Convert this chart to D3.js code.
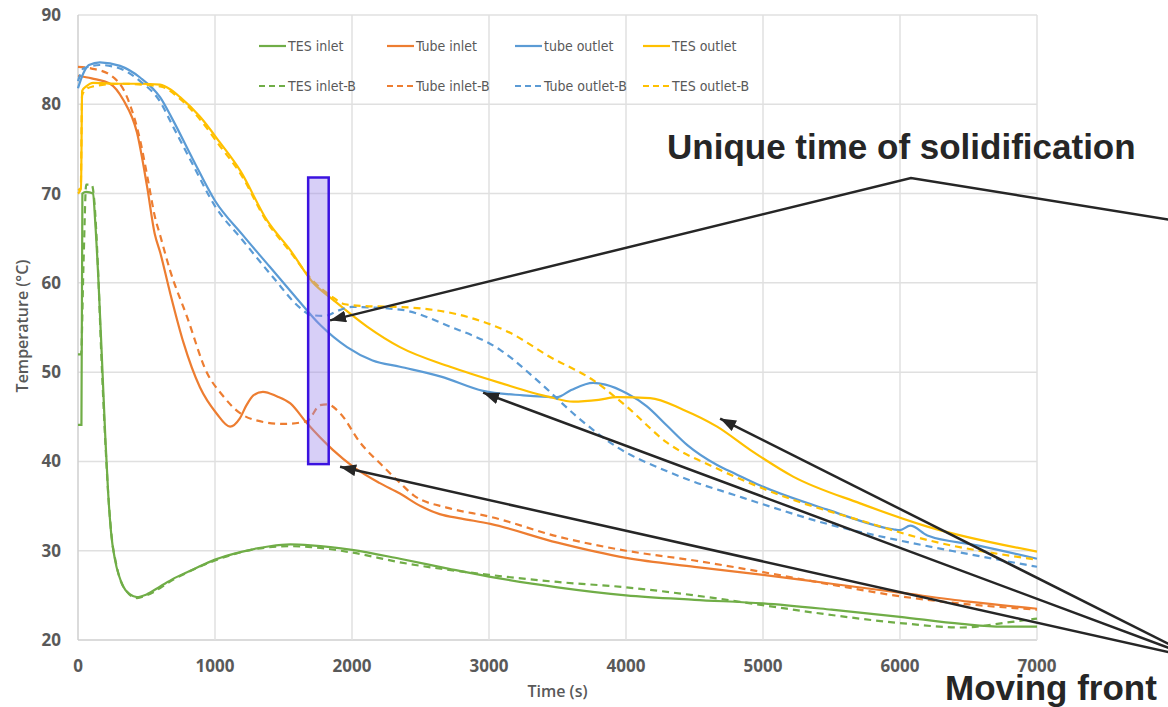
<!DOCTYPE html>
<html>
<head>
<meta charset="utf-8">
<script src="https://cdn.jsdelivr.net/npm/d3@7"></script>
<style>
body { margin: 0; background: #fff; }
</style>
</head>
<body>
<div id="chart"></div>
<script>
var width = 1168;
var height = 707;

var xTicks = [0, 1000, 2000, 3000, 4000, 5000, 6000, 7000];
var yTicks = [20, 30, 40, 50, 60, 70, 80, 90];

// [time (s), temperature (°C)]
var tesInlet = [[0,44.1],[25,44.1],[32,70],[60,70.2],[110,70],[125,67],[150,60],[175,51.4],[200,42.5],[220,36.5],[245,31.5],[270,29],[330,26],[380,25.1],[430,24.8],[500,25.1],[600,26],[700,26.9],[840,27.9],[1000,29],[1200,29.9],[1400,30.5],[1550,30.7],[1700,30.6],[2000,30.1],[2350,29.1],[2700,28],[3000,27.1],[3500,25.9],[4000,25.0],[4500,24.5],[5000,24.1],[5500,23.4],[6000,22.6],[6450,21.8],[6750,21.5],[7000,21.5]];
var tubeInlet = [[0,83.2],[100,82.9],[234,82.3],[330,80.5],[431,76.8],[504,70.8],[560,65.5],[600,63.4],[672,58.9],[770,53.3],[890,48.3],[1010,45.4],[1110,43.9],[1180,44.8],[1230,46.3],[1280,47.4],[1350,47.8],[1450,47.3],[1550,46.5],[1670,44.3],[1860,41.3],[2010,39.4],[2200,37.6],[2350,36.4],[2500,35],[2640,34.1],[2800,33.6],[3010,33.0],[3500,30.9],[4000,29.2],[4500,28.2],[5000,27.3],[5500,26.3],[6000,25.3],[6500,24.3],[7000,23.5]];
var tubeOutlet = [[0,81.8],[40,83.5],[80,84.4],[160,84.7],[307,84.3],[453,83],[599,80.8],[694,78.2],[840,73.8],[1000,69.2],[1200,65.4],[1400,61.8],[1600,58.2],[1767,55.3],[1964,52.8],[2150,51.3],[2350,50.6],[2650,49.5],[2957,47.9],[3250,47.4],[3497,47.2],[3600,48.0],[3760,48.8],[3850,48.6],[4008,47.6],[4150,46.2],[4300,44.0],[4450,41.8],[4665,39.6],[4800,38.6],[4980,37.3],[5470,34.6],[5950,32.4],[6000,32.3],[6075,32.8],[6200,31.7],[6565,30.6],[7000,29.1]];
var tesOutlet = [[0,70.4],[22,70.6],[30,81.5],[60,82],[110,82.4],[300,82.3],[450,82.3],[599,82.2],[680,81.6],[745,80.8],[891,78.6],[1037,75.7],[1183,72.6],[1380,67],[1548,63.7],[1716,60],[1862,58.1],[2110,55.1],[2350,52.8],[2716,50.6],[3081,48.8],[3446,47.2],[3614,46.7],[3800,46.9],[3935,47.2],[4176,47.1],[4417,45.8],[4665,43.9],[4906,41.3],[5220,38.3],[5709,35.3],[6200,32.7],[7000,29.9]];
var tesInletB = [[0,52],[22,52],[40,62],[60,71],[100,71],[120,69],[145,62],[170,52],[200,42],[220,36.5],[250,31],[275,28.8],[330,26],[430,24.7],[500,25],[700,26.8],[1000,28.9],[1300,30.2],[1550,30.5],[1700,30.4],[2000,29.8],[2350,28.7],[3000,27.3],[3500,26.5],[4000,25.9],[4500,25.0],[5000,23.9],[5500,22.8],[6000,21.9],[6450,21.4],[6800,22.0],[7000,22.4]];
var tubeInletB = [[0,84.2],[100,84],[234,83.3],[358,80.8],[453,76],[511,71.5],[560,67.5],[600,65.3],[672,61.4],[796,56.2],[942,49.9],[1050,47.5],[1183,45.4],[1300,44.6],[1500,44.2],[1670,44.5],[1767,46.3],[1820,46.4],[1913,45.4],[2060,42.1],[2230,39.4],[2350,37.6],[2450,36.2],[2700,34.8],[3010,33.8],[3500,31.6],[4000,30.0],[4500,28.9],[5000,27.6],[5500,26.2],[6000,24.9],[6500,24.0],[7000,23.4]];
var tubeOutletB = [[0,82.6],[40,84],[160,84.4],[307,84],[453,82.6],[599,80.3],[694,77.5],[840,73.2],[1000,68.6],[1200,64.8],[1425,60.6],[1621,57.2],[1700,56.4],[1800,56.3],[1900,56.9],[2000,57.3],[2350,57],[2716,55.1],[3081,52.5],[3373,48.8],[3643,45],[3935,41.6],[4300,38.9],[4500,37.7],[4780,36.3],[5000,35.2],[5470,33.0],[5950,31.3],[6440,29.8],[7000,28.2]];
var tesOutletB = [[0,70],[20,70.5],[30,81],[60,81.7],[110,82],[300,82.3],[599,82],[745,80.6],[891,78.3],[1037,75.3],[1183,72.3],[1380,66.8],[1548,63.5],[1716,60.2],[1850,58.5],[1950,57.6],[2100,57.4],[2350,57.3],[2840,56.2],[3154,54.4],[3446,51.7],[3760,49.1],[4008,46.1],[4300,42.1],[4665,39.2],[5220,35.7],[5709,33.4],[6200,31.2],[7000,29.0]];

var seriesNames = ["TES inlet", "Tube inlet", "tube outlet", "TES outlet", "TES inlet-B", "Tube inlet-B", "Tube outlet-B", "TES outlet-B"];
var seriesColors = ["#70ad47", "#ed7d31", "#5b9bd5", "#ffc000", "#70ad47", "#ed7d31", "#5b9bd5", "#ffc000"];
var seriesDashed = [false, false, false, false, true, true, true, true];
var seriesData = [tesInlet, tubeInlet, tubeOutlet, tesOutlet, tesInletB, tubeInletB, tubeOutletB, tesOutletB];

// annotations, in data units
var solidBand = {t0: 1680, t1: 1830, T0: 39.7, T1: 71.8};
var uniquePath = [[8200, 66.5], [6080, 71.75], [1840, 55.8]];
var frontOrigin = [8176, 17.9];
var frontTips = [[4687, 44.8], [2957, 47.7], [1913, 39.4]];

var svg = d3.select("#chart").append("svg")
	.attr("width", width)
	.attr("height", height)
	.style("font-family", "'Open Sans', 'Liberation Sans', sans-serif");

svg.append("rect").attr("width", width).attr("height", height).attr("fill", "#fff");

var x = d3.scaleLinear().domain([0, 7000]).range([78, 1037]);
var y = d3.scaleLinear().domain([20, 90]).range([640, 15]);

// grid
svg.append("g").selectAll("line").data(yTicks).enter().append("line")
	.attr("x1", x(0)).attr("x2", x(7000))
	.attr("y1", function(d) { return y(d); }).attr("y2", function(d) { return y(d); })
	.attr("stroke", function(d) { return d == 20 ? "#cfcfcf" : "#e0e0e0"; })
	.attr("stroke-width", 1.5);

svg.append("g").selectAll("line").data(xTicks).enter().append("line")
	.attr("y1", y(20)).attr("y2", y(90))
	.attr("x1", function(d) { return x(d); }).attr("x2", function(d) { return x(d); })
	.attr("stroke", function(d) { return d == 0 ? "#cfcfcf" : "#e0e0e0"; })
	.attr("stroke-width", 1.5);

// tick labels
svg.append("g").selectAll("text").data(yTicks).enter().append("text")
	.attr("x", 61).attr("y", function(d) { return y(d) + 6; })
	.attr("text-anchor", "end")
	.attr("font-size", 17).attr("font-weight", 700).attr("fill", "#595959")
	.text(function(d) { return d; });

svg.append("g").selectAll("text").data(xTicks).enter().append("text")
	.attr("x", function(d) { return x(d); }).attr("y", 672)
	.attr("text-anchor", "middle")
	.attr("font-size", 17).attr("font-weight", 700).attr("fill", "#595959")
	.text(function(d) { return d; });

svg.append("text")
	.attr("x", (x(0) + x(7000)) / 2).attr("y", 697)
	.attr("text-anchor", "middle")
	.attr("font-size", 16).attr("font-weight", 600).attr("fill", "#595959")
	.text("Time (s)");

svg.append("text")
	.attr("transform", "translate(28,326) rotate(-90)")
	.attr("text-anchor", "middle")
	.attr("font-size", 16).attr("font-weight", 600).attr("fill", "#595959")
	.text("Temperature (°C)");

// series
var line = d3.line()
	.x(function(d) { return x(d[0]); })
	.y(function(d) { return y(d[1]); })
	.curve(d3.curveMonotoneX);

svg.append("g").selectAll("path").data(seriesData).enter().append("path")
	.attr("d", line)
	.attr("fill", "none")
	.attr("stroke", function(d, i) { return seriesColors[i]; })
	.attr("stroke-width", 2.2)
	.attr("stroke-dasharray", function(d, i) { return seriesDashed[i] ? "7,5" : null; });

// legend
var legend = svg.append("g").selectAll("g").data(seriesNames).enter().append("g")
	.attr("transform", function(d, i) { return "translate(" + (259 + (i % 4) * 128) + "," + (i < 4 ? 46 : 86) + ")"; });

legend.append("line")
	.attr("x1", 0).attr("x2", 27).attr("y1", 0).attr("y2", 0)
	.attr("stroke", function(d, i) { return seriesColors[i]; })
	.attr("stroke-width", 2.2)
	.attr("stroke-dasharray", function(d, i) { return seriesDashed[i] ? "6,4" : null; });

legend.append("text")
	.attr("x", 29).attr("y", 5)
	.attr("font-family", "'Liberation Sans Narrow', 'DejaVu Sans Condensed', sans-serif")
	.attr("font-size", 14).attr("fill", "#595959")
	.text(function(d) { return d; });

// solidification band
svg.append("rect")
	.attr("x", x(solidBand.t0)).attr("y", y(solidBand.T1))
	.attr("width", x(solidBand.t1) - x(solidBand.t0))
	.attr("height", y(solidBand.T0) - y(solidBand.T1))
	.attr("fill", "#9a86ea").attr("fill-opacity", 0.4)
	.attr("stroke", "#3b12e0").attr("stroke-width", 2.5);

// arrows
svg.append("defs").append("marker")
	.attr("id", "head")
	.attr("viewBox", "0 0 16 12")
	.attr("refX", 16).attr("refY", 6)
	.attr("markerWidth", 16).attr("markerHeight", 12)
	.attr("markerUnits", "userSpaceOnUse")
	.attr("orient", "auto")
	.append("path").attr("d", "M0,0L16,6L0,12Z").attr("fill", "#262626");

svg.append("path")
	.attr("d", d3.line().x(function(d) { return x(d[0]); }).y(function(d) { return y(d[1]); })(uniquePath))
	.attr("fill", "none").attr("stroke", "#262626").attr("stroke-width", 2.5)
	.attr("marker-end", "url(#head)");

svg.append("g").selectAll("line").data(frontTips).enter().append("line")
	.attr("x1", x(frontOrigin[0])).attr("y1", y(frontOrigin[1]))
	.attr("x2", function(d) { return x(d[0]); }).attr("y2", function(d) { return y(d[1]); })
	.attr("stroke", "#262626").attr("stroke-width", 2.5)
	.attr("marker-end", "url(#head)");

svg.append("text")
	.attr("x", 667).attr("y", 159)
	.attr("font-family", "'Liberation Sans', Arial, sans-serif")
	.attr("font-size", 35).attr("font-weight", "bold").attr("fill", "#262626")
	.text("Unique time of solidification");

svg.append("text")
	.attr("x", 945).attr("y", 700)
	.attr("font-family", "'Liberation Sans', Arial, sans-serif")
	.attr("font-size", 35).attr("font-weight", "bold").attr("fill", "#262626")
	.text("Moving front");
</script>
</body>
</html>
